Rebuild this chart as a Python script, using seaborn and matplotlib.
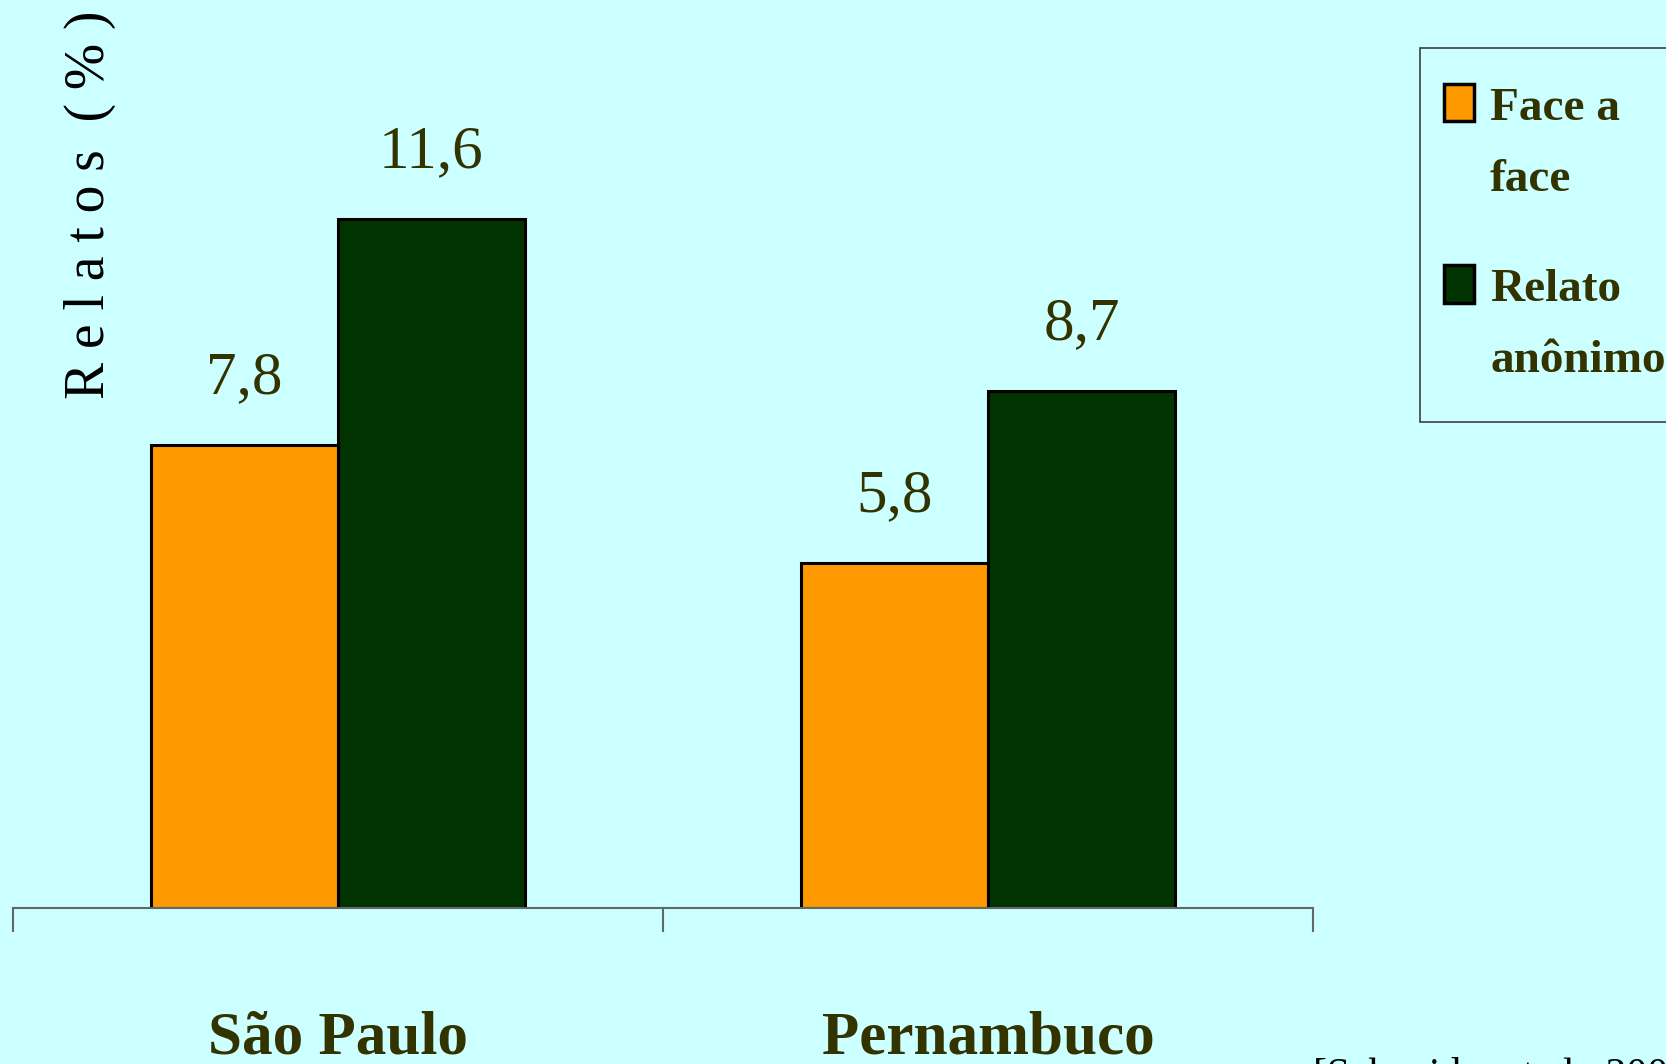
import matplotlib
matplotlib.use("Agg")
import matplotlib.pyplot as plt
from matplotlib.patches import Rectangle
from matplotlib.legend_handler import HandlerPatch
import seaborn as sns
import pandas as pd

# ---- data ----
regioes = ["São Paulo", "Pernambuco"]
tipos = ["Face a face", "Relato anônimo"]
face_a_face = [7.8, 5.8]
relato_anonimo = [11.6, 8.7]
legend_labels = ["Face a\nface", "Relato\nanônimo"]
ylabel_text = "R e l a t o s  ( % )"
citation_text = "[Schneider et al., 2009]"

df = pd.DataFrame({
    "regiao": regioes * 2,
    "tipo": [tipos[0]] * 2 + [tipos[1]] * 2,
    "valor": face_a_face + relato_anonimo,
})

BG = "#CCFFFF"
TXT = "#333300"
colors = ["#FF9900", "#003300"]

sns.set_theme(style="white")
plt.rcParams["font.family"] = ["Liberation Serif", "DejaVu Serif"]

W, H = 1666, 1064
fig = plt.figure(figsize=(W / 100, H / 100), dpi=100, facecolor=BG)
ax = fig.add_axes([13 / W, 1 - 908 / H, 1300 / W, 908 / H])
ax.set_facecolor(BG)

sns.barplot(data=df, x="regiao", y="valor", hue="tipo", order=regioes,
            hue_order=tipos, palette=colors, width=0.575, gap=0,
            edgecolor="black", linewidth=2.2, saturation=1, ax=ax, errorbar=None)

ax.set_xlim(-0.5, 1.5)
ax.set_ylim(0, 908 / 59.4)

for cont in ax.containers:
    ax.bar_label(cont, labels=[f"{b.get_height():.1f}".replace(".", ",") for b in cont],
                 padding=28, fontsize=44, color=TXT)

for s in ["top", "right", "left"]:
    ax.spines[s].set_visible(False)
ax.spines["bottom"].set_color("#606868")
ax.spines["bottom"].set_linewidth(1.5)

ax.set_yticks([])
ax.set_xticks([-0.5, 0.5, 1.5])
ax.set_xticklabels([])
ax.tick_params(axis="x", which="major", direction="out", length=17, width=1.5,
               color="#606868", bottom=True)
ax.set_xticks([0, 1], minor=True)
ax.set_xticklabels(regioes, minor=True, fontsize=44, fontweight="bold", color=TXT)
ax.tick_params(axis="x", which="minor", length=0, pad=74)
ax.set_xlabel("")
ax.set_ylabel("")

fig.text(90 / W, 1 - 205 / H, ylabel_text, rotation=90, ha="center", va="center",
         fontsize=40, color="black")


def raised_patch(legend, orig_handle, xdescent, ydescent, width, height, fontsize):
    return Rectangle((-xdescent - 11.5, -ydescent + 30), width, height)


LFS = 34
handles, _ = ax.get_legend_handles_labels()
if ax.get_legend() is not None:
    ax.get_legend().remove()
hp = HandlerPatch(patch_func=raised_patch)
leg = fig.legend(handles, legend_labels, loc="upper left",
                 bbox_to_anchor=(1420 / W, 1 - 48 / H), bbox_transform=fig.transFigure,
                 frameon=True, fancybox=False, edgecolor="#404040", facecolor=BG,
                 framealpha=1, borderaxespad=0, borderpad=0.85,
                 prop={"family": "Liberation Serif", "weight": "bold", "size": LFS},
                 labelcolor=TXT, handlelength=0.635, handleheight=0.85,
                 handletextpad=0.0, labelspacing=1.45,
                 handler_map={h: hp for h in handles})
leg.get_frame().set_linewidth(1.2)
for t in leg.get_texts():
    t.set_linespacing(1.9)
for p in leg.get_patches():
    p.set_linewidth(2.5)
    p.set_edgecolor("black")

fig.text(1313 / W, 1 - 1086 / H, citation_text, ha="left", va="baseline",
         fontsize=30, color="black")

fig.savefig("out.png", dpi=100, facecolor=BG)
